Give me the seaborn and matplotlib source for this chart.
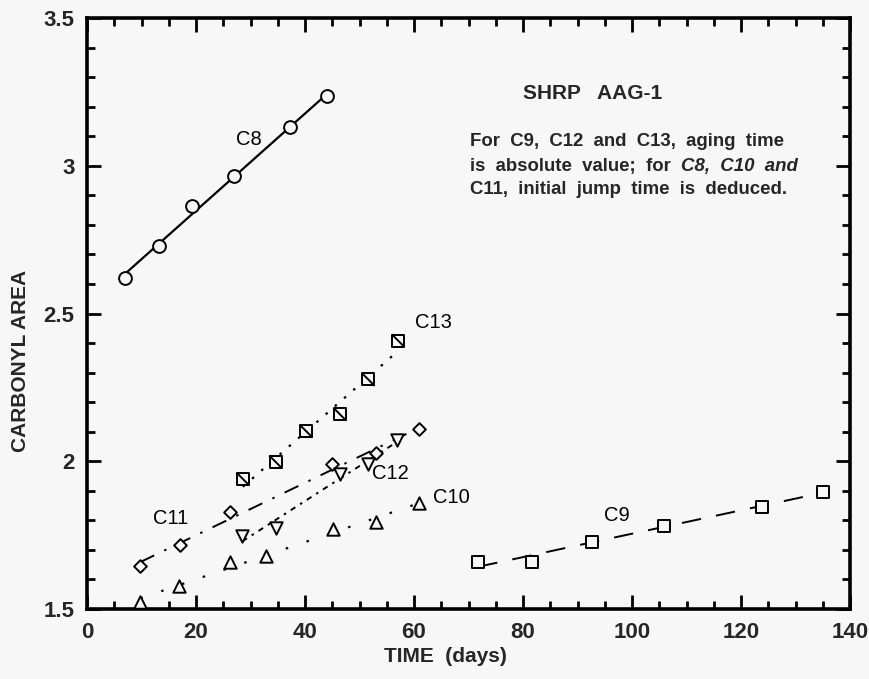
import numpy as np
import pandas as pd
import matplotlib
matplotlib.use("Agg")
import matplotlib.pyplot as plt
from matplotlib.path import Path
import seaborn as sns

# ---- data ----
c8_x = [7.0, 13.2, 19.3, 27.0, 37.2, 44.1]
c8_y = [2.62, 2.73, 2.865, 2.965, 3.13, 3.235]
c9_x = [71.8, 81.6, 92.6, 105.9, 123.8, 135.0]
c9_y = [1.66, 1.66, 1.726, 1.782, 1.846, 1.897]
c10_x = [9.8, 16.8, 26.2, 32.9, 45.1, 53.1, 60.9]
c10_y = [1.525, 1.578, 1.658, 1.68, 1.771, 1.793, 1.858]
c11_x = [9.8, 17.1, 26.3, 45.0, 53.1, 60.9]
c11_y = [1.647, 1.717, 1.827, 1.99, 2.027, 2.108]
c12_x = [28.5, 34.6, 46.5, 51.6, 56.9]
c12_y = [1.748, 1.773, 1.957, 1.991, 2.072]
c13_x = [28.6, 34.6, 40.2, 46.4, 51.6, 57.1]
c13_y = [1.94, 1.998, 2.102, 2.159, 2.277, 2.408]

series_names = ["C8", "C9", "C10", "C11", "C12", "C13"]
label_pos = {"C8": (29.7, 3.09), "C9": (97.2, 1.818), "C10": (66.8, 1.879),
             "C11": (15.3, 1.805), "C12": (55.7, 1.96), "C13": (63.5, 2.468)}

x_ticks = [0, 20, 40, 60, 80, 100, 120, 140]
y_ticks = [1.5, 2, 2.5, 3, 3.5]
y_tick_labels = ["1.5", "2", "2.5", "3", "3.5"]

sns.set_style("ticks")
plt.rcParams["font.family"] = ["Liberation Sans", "DejaVu Sans"]
plt.rcParams["lines.scale_dashes"] = False

bg = "#f7f7f7"
fig = plt.figure(figsize=(8.69, 6.79), dpi=100, facecolor=bg)
ax = fig.add_axes([87 / 869, 1 - 609 / 679, (850 - 87) / 869, (609 - 18) / 679])
ax.set_facecolor(bg)

data = {
    "C8": (c8_x, c8_y), "C9": (c9_x, c9_y), "C10": (c10_x, c10_y),
    "C11": (c11_x, c11_y), "C12": (c12_x, c12_y), "C13": (c13_x, c13_y),
}
styles = {
    "C8": dict(ls="-", lw=1.6),
    "C9": dict(ls=(0, (14, 11)), lw=1.4),
    "C10": dict(ls=(0, (1.8, 14)), lw=1.6),
    "C11": dict(ls=(0, (11, 8, 1.8, 8)), lw=1.4),
    "C12": dict(ls=(0, (4, 4, 1.8, 4)), lw=1.4),
    "C13": dict(ls=(0, (1.8, 7)), lw=1.6),
}
markers = {"C8": ("o", 85), "C9": ("s", 85), "C10": ("^", 80),
           "C11": ("D", 42), "C12": ("v", 80), "C13": ("s", 85)}

diag = Path([(-1, 1), (1, -1)], [Path.MOVETO, Path.LINETO])

for name in series_names:
    xs, ys = data[name]
    df = pd.DataFrame({"x": xs, "y": ys})
    st = styles[name]
    sns.regplot(data=df, x="x", y="y", ax=ax, ci=None, scatter=False,
                truncate=True,
                line_kws=dict(color="black", lw=st["lw"], linestyle=st["ls"]))
    m, s = markers[name]
    sns.scatterplot(data=df, x="x", y="y", ax=ax, marker=m, s=s,
                    facecolor=bg, edgecolor="black", linewidth=1.4, zorder=3)
    if name == "C13":
        sns.scatterplot(data=df, x="x", y="y", ax=ax, marker=diag, s=85,
                        facecolor="none", edgecolor="black", linewidth=1.4,
                        zorder=4)
    lx, ly = label_pos[name]
    ax.text(lx, ly, name, fontsize=14.5, ha="center", va="center", color="black")

ax.set_xlim(0, 140)
ax.set_ylim(1.5, 3.5)
ax.set_xticks(x_ticks)
ax.set_xticklabels([str(t) for t in x_ticks])
ax.set_yticks(y_ticks)
ax.set_yticklabels(y_tick_labels)
ax.set_xticks(np.arange(0, 141, 5), minor=True)
ax.set_yticks(np.arange(1.5, 3.501, 0.1), minor=True)
ax.tick_params(which="both", direction="in", top=True, right=True,
               width=2.0, color="black")
ax.tick_params(which="major", length=10, labelsize=16, pad=9)
ax.tick_params(which="minor", length=5.5)
for lab in ax.get_xticklabels() + ax.get_yticklabels():
    lab.set_fontweight("bold")
for sp in ax.spines.values():
    sp.set_linewidth(2.6)
    sp.set_color("black")
    sp.set_visible(True)

ax.set_xlabel("TIME  (days)", fontsize=15, fontweight="bold", va="top")
ax.set_ylabel("CARBONYL AREA", fontsize=15, fontweight="bold")
ax.xaxis.set_label_coords(0.47, -0.064)
ax.yaxis.set_label_coords(-0.075, 0.42)

# annotation block
ax.text(92.8, 3.243, "SHRP   AAG-1", fontsize=15, fontweight="bold",
        ha="center", va="center")
x0 = 70.3
fs = 13.4
ax.text(x0, 3.081, "For  C9,  C12  and  C13,  aging  time", fontsize=fs,
        fontweight="bold", ha="left", va="center")
t2 = ax.text(x0, 2.997, "is  absolute  value;  for  ", fontsize=fs,
             fontweight="bold", ha="left", va="center")
fig.canvas.draw()
bb = t2.get_window_extent()
xend = ax.transData.inverted().transform((bb.x1, bb.y0))[0]
ax.text(xend, 2.997, "C8,  C10  and", fontsize=fs, fontweight="bold",
        style="italic", ha="left", va="center")
ax.text(x0, 2.918, "C11,  initial  jump  time  is  deduced.", fontsize=fs,
        fontweight="bold", ha="left", va="center")

fig.savefig("out.png", dpi=100, facecolor=bg)
